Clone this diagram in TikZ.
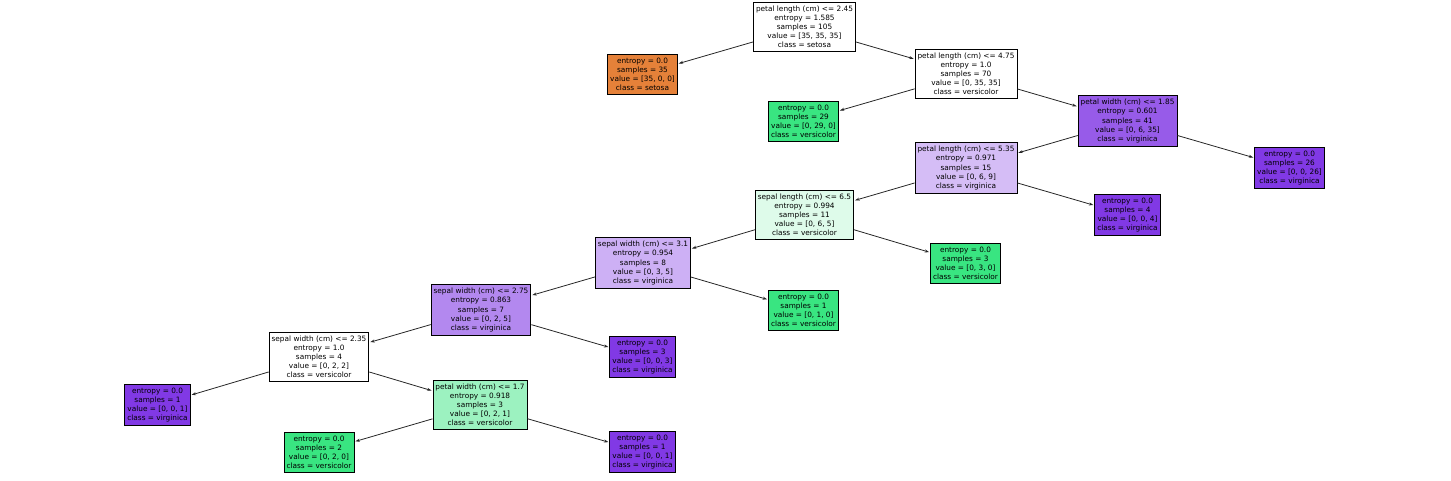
\documentclass[tikz,border=0pt]{standalone}
\usepackage{fontspec}
\setmainfont{DejaVu Sans}
\usetikzlibrary{arrows.meta}
\definecolor{cwhite}{RGB}{255,255,255}
\definecolor{csetosa}{RGB}{229,129,57}
\definecolor{cvers}{RGB}{57,229,129}
\definecolor{cvirg}{RGB}{129,57,229}
\definecolor{cvirgA}{RGB}{151,91,233}
\definecolor{cvirgB}{RGB}{213,189,246}
\definecolor{cversA}{RGB}{222,251,234}
\definecolor{cvirgC}{RGB}{205,176,245}
\definecolor{cvirgD}{RGB}{179,136,239}
\definecolor{cversB}{RGB}{156,242,192}
\tikzset{
  tnode/.style={draw=black, line width=0.8pt, align=center, inner xsep=2.5pt, inner ysep=3.6pt,
    font=\fontsize{7.35}{9.1}\selectfont, text=black},
  edge/.style={draw=black!85, line width=0.8pt, -{Stealth[length=4.5pt,width=3pt]}, shorten >=1pt}
}
\begin{document}
\begin{tikzpicture}[x=1pt,y=-1pt]
\useasboundingbox (0,0) rectangle (1451,480);
\node[tnode, fill=cwhite] (n0) at (804.5,27) {petal length (cm) <= 2.45\\entropy = 1.585\\samples = 105\\value = [35, 35, 35]\\class = setosa};
\node[tnode, fill=csetosa] (n1) at (642.5,74) {entropy = 0.0\\samples = 35\\value = [35, 0, 0]\\class = setosa};
\node[tnode, fill=cwhite] (n2) at (966,74) {petal length (cm) <= 4.75\\entropy = 1.0\\samples = 70\\value = [0, 35, 35]\\class = versicolor};
\node[tnode, fill=cvers] (n3) at (803.5,121) {entropy = 0.0\\samples = 29\\value = [0, 29, 0]\\class = versicolor};
\node[tnode, fill=cvirgA] (n4) at (1127.5,121) {petal width (cm) <= 1.85\\entropy = 0.601\\samples = 41\\value = [0, 6, 35]\\class = virginica};
\node[tnode, fill=cvirg] (n5) at (1289.5,168) {entropy = 0.0\\samples = 26\\value = [0, 0, 26]\\class = virginica};
\node[tnode, fill=cvirgB] (n6) at (966,168) {petal length (cm) <= 5.35\\entropy = 0.971\\samples = 15\\value = [0, 6, 9]\\class = virginica};
\node[tnode, fill=cvirg] (n7) at (1127.5,215) {entropy = 0.0\\samples = 4\\value = [0, 0, 4]\\class = virginica};
\node[tnode, fill=cversA] (n8) at (804.5,215) {sepal length (cm) <= 6.5\\entropy = 0.994\\samples = 11\\value = [0, 6, 5]\\class = versicolor};
\node[tnode, fill=cvers] (n9) at (965.5,263) {entropy = 0.0\\samples = 3\\value = [0, 3, 0]\\class = versicolor};
\node[tnode, fill=cvirgC] (n10) at (643,263) {sepal width (cm) <= 3.1\\entropy = 0.954\\samples = 8\\value = [0, 3, 5]\\class = virginica};
\node[tnode, fill=cvers] (n11) at (803.5,310) {entropy = 0.0\\samples = 1\\value = [0, 1, 0]\\class = versicolor};
\node[tnode, fill=cvirgD] (n12) at (481,310) {sepal width (cm) <= 2.75\\entropy = 0.863\\samples = 7\\value = [0, 2, 5]\\class = virginica};
\node[tnode, fill=cvirg] (n13) at (642.5,357) {entropy = 0.0\\samples = 3\\value = [0, 0, 3]\\class = virginica};
\node[tnode, fill=cwhite] (n14) at (319,357) {sepal width (cm) <= 2.35\\entropy = 1.0\\samples = 4\\value = [0, 2, 2]\\class = versicolor};
\node[tnode, fill=cversB] (n15) at (480,405) {petal width (cm) <= 1.7\\entropy = 0.918\\samples = 3\\value = [0, 2, 1]\\class = versicolor};
\node[tnode, fill=cvirg] (n16) at (157.5,405) {entropy = 0.0\\samples = 1\\value = [0, 0, 1]\\class = virginica};
\node[tnode, fill=cvers] (n17) at (319,452) {entropy = 0.0\\samples = 2\\value = [0, 2, 0]\\class = versicolor};
\node[tnode, fill=cvirg] (n18) at (642.5,452) {entropy = 0.0\\samples = 1\\value = [0, 0, 1]\\class = virginica};
\draw[edge] (n0) -- (n1);
\draw[edge] (n0) -- (n2);
\draw[edge] (n2) -- (n3);
\draw[edge] (n2) -- (n4);
\draw[edge] (n4) -- (n5);
\draw[edge] (n4) -- (n6);
\draw[edge] (n6) -- (n7);
\draw[edge] (n6) -- (n8);
\draw[edge] (n8) -- (n9);
\draw[edge] (n8) -- (n10);
\draw[edge] (n10) -- (n11);
\draw[edge] (n10) -- (n12);
\draw[edge] (n12) -- (n13);
\draw[edge] (n12) -- (n14);
\draw[edge] (n14) -- (n15);
\draw[edge] (n14) -- (n16);
\draw[edge] (n15) -- (n17);
\draw[edge] (n15) -- (n18);
\end{tikzpicture}
\end{document}
